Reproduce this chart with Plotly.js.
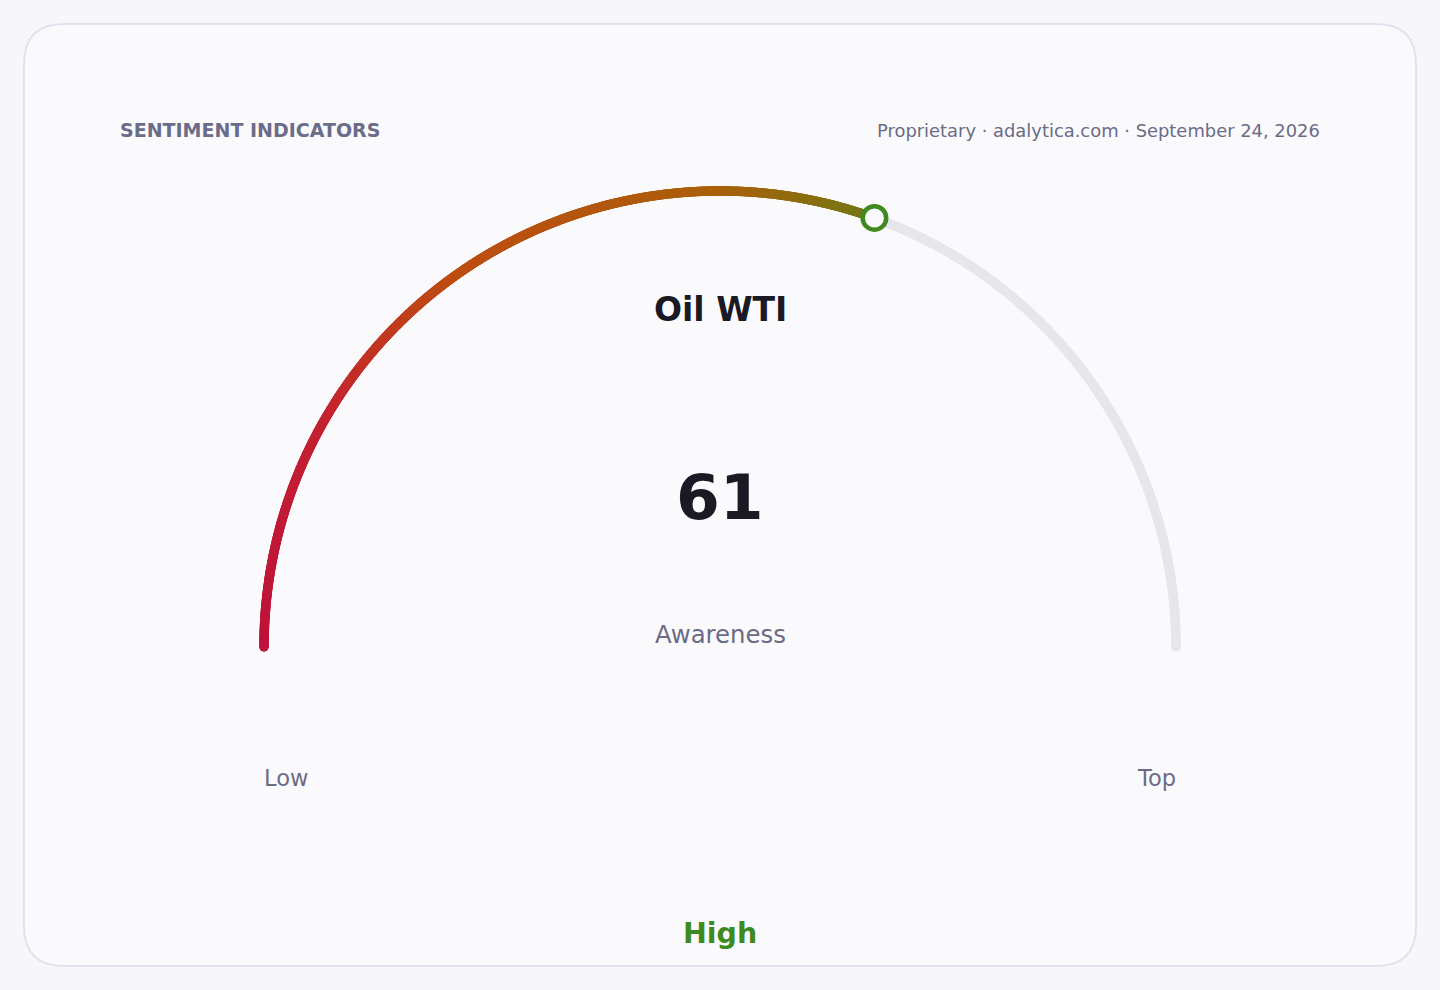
<!DOCTYPE html>
<html>
<head>
<meta charset="utf-8">
<script src="https://cdn.plot.ly/plotly-3.0.1.min.js"></script>
<style>
  html, body { margin: 0; padding: 0; background: #f7f7fb; }
  #chart { width: 1440px; height: 990px; }
</style>
</head>
<body>
<div id="chart"></div>
<script>
// ---- data ----
const sectionTitle = ['SENTIMENT INDICATORS'];
const sourceLine = ['Proprietary · adalytica.com · September 24, 2026'];
const indicatorNames = ['Oil WTI'];
const indicatorValues = [61];
const metricNames = ['Awareness'];
const scaleMin = [0];
const scaleMax = [100];
const scaleEndLabels = ['Low', 'Top'];
const levelLabels = ['High'];

// ---- styling / geometry ----
const CX = 720, CY = 647, R = 456;
const gradStops = [
  [0.00, [190, 18, 60]],
  [0.17, [196, 34, 48]],
  [0.30, [190, 76, 18]],
  [0.50, [170, 96, 10]],
  [0.58, [130, 114, 18]],
  [0.62, [112, 122, 20]],
  [1.00, [63, 138, 31]]
];
function colorAt(f) {
  for (let i = 1; i < gradStops.length; i++) {
    if (f <= gradStops[i][0]) {
      const a = gradStops[i - 1], b = gradStops[i];
      const t = (f - a[0]) / (b[0] - a[0]);
      const c = a[1].map((v, k) => Math.round(v + (b[1][k] - v) * t));
      return 'rgb(' + c.join(',') + ')';
    }
  }
  const c = gradStops[gradStops.length - 1][1];
  return 'rgb(' + c.join(',') + ')';
}
function pointFor(v) {
  const f = (v - scaleMin[0]) / (scaleMax[0] - scaleMin[0]);
  const ang = Math.PI * (1 - f);
  return [CX + R * Math.cos(ang), CY - R * Math.sin(ang)];
}

const value = indicatorValues[0];
const N = 1400;
const trackX = [], trackY = [];
for (let i = 0; i <= N; i++) {
  const v = scaleMin[0] + (scaleMax[0] - scaleMin[0]) * i / N;
  const p = pointFor(v); trackX.push(p[0]); trackY.push(p[1]);
}
const M = Math.round(N * (value - scaleMin[0]) / (scaleMax[0] - scaleMin[0]));
const valX = [], valY = [], valC = [];
for (let i = 0; i <= M; i++) {
  const v = scaleMin[0] + (value - scaleMin[0]) * i / M;
  const p = pointFor(v); valX.push(p[0]); valY.push(p[1]);
  valC.push(colorAt((v - scaleMin[0]) / (scaleMax[0] - scaleMin[0])));
}
const tip = pointFor(value);

const traces = [
  { x: trackX, y: trackY, type: 'scatter', mode: 'markers', hoverinfo: 'skip',
    marker: { size: 9.5, color: '#e6e6ec', line: { width: 0 } } },
  { x: valX, y: valY, type: 'scatter', mode: 'markers', hoverinfo: 'skip',
    marker: { size: 9.5, color: valC, line: { width: 0 } } },
  { x: [tip[0]], y: [tip[1]], type: 'scatter', mode: 'markers', hoverinfo: 'skip',
    marker: { size: 23.5, color: '#fafafd', line: { width: 4.5, color: '#3f8a1f' } } }
];

const FONT = 'DejaVu Sans, sans-serif';
const muted = '#6b6b85';
const annotations = [
  { x: 118, y: 130, text: '<b>' + sectionTitle[0] + '</b>', xanchor: 'left', yanchor: 'middle',
    showarrow: false, font: { family: FONT, size: 19, color: '#6b6b8a' } },
  { x: 1322, y: 130, text: sourceLine[0], xanchor: 'right', yanchor: 'middle',
    showarrow: false, font: { family: FONT, size: 17.9, color: muted } },
  { x: CX, y: 309, text: '<b>' + indicatorNames[0] + '</b>', xanchor: 'center', yanchor: 'middle',
    showarrow: false, font: { family: FONT, size: 33, color: '#1a1a24' } },
  { x: CX, y: 497, text: '<b>' + value + '</b>', xanchor: 'center', yanchor: 'middle',
    showarrow: false, font: { family: FONT, size: 63, color: '#1a1a24' } },
  { x: CX, y: 634, text: metricNames[0], xanchor: 'center', yanchor: 'middle',
    showarrow: false, font: { family: FONT, size: 24.4, color: muted } },
  { x: 262, y: 778, text: scaleEndLabels[0], xanchor: 'left', yanchor: 'middle',
    showarrow: false, font: { family: FONT, size: 22.5, color: muted } },
  { x: 1178, y: 778, text: scaleEndLabels[1], xanchor: 'right', yanchor: 'middle',
    showarrow: false, font: { family: FONT, size: 22.5, color: muted } },
  { x: CX, y: 933, text: '<b>' + levelLabels[0] + '</b>', xanchor: 'center', yanchor: 'middle',
    showarrow: false, font: { family: FONT, size: 28.5, color: '#3f8a1f' } }
];

const layout = {
  width: 1440, height: 990,
  margin: { l: 0, r: 0, t: 0, b: 0 },
  paper_bgcolor: '#f7f7fb', plot_bgcolor: 'rgba(0,0,0,0)',
  showlegend: false,
  xaxis: { range: [0, 1440], visible: false, fixedrange: true },
  yaxis: { range: [990, 0], visible: false, fixedrange: true },
  shapes: [{
    type: 'path', xref: 'x', yref: 'y', layer: 'below',
    path: 'M 64,24 L 1376,24 Q 1416,24 1416,64 L 1416,926 Q 1416,966 1376,966 L 64,966 Q 24,966 24,926 L 24,64 Q 24,24 64,24 Z',
    fillcolor: '#fafafd', line: { color: '#e2e2ee', width: 2 }
  }],
  annotations: annotations
};

Plotly.newPlot('chart', traces, layout, { displayModeBar: false, staticPlot: true });
</script>
</body>
</html>
